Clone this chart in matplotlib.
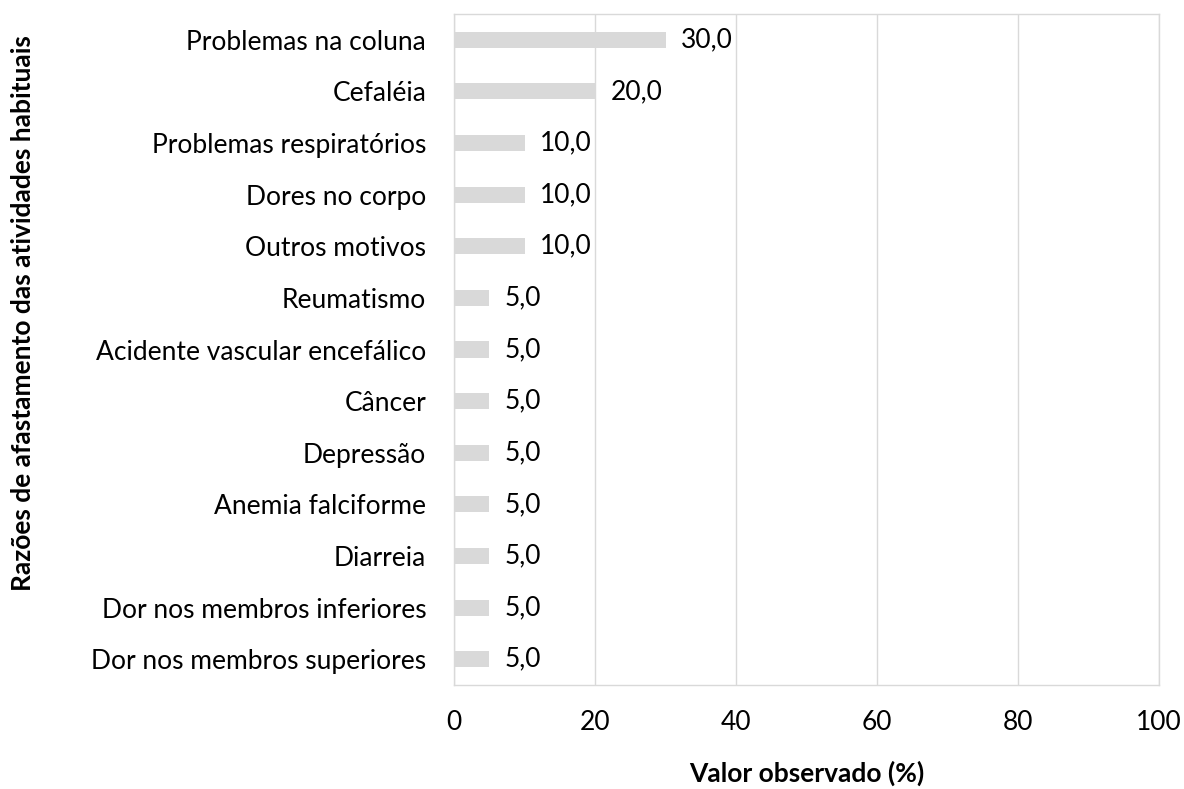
import matplotlib
matplotlib.use("Agg")
import matplotlib.pyplot as plt

categories = ["Problemas na coluna", "Cefaléia", "Problemas respiratórios",
              "Dores no corpo", "Outros motivos", "Reumatismo",
              "Acidente vascular encefálico", "Câncer", "Depressão",
              "Anemia falciforme", "Diarreia", "Dor nos membros inferiores",
              "Dor nos membros superiores"]
values = [30.0, 20.0, 10.0, 10.0, 10.0, 5.0, 5.0, 5.0, 5.0, 5.0, 5.0, 5.0, 5.0]
xticks = [0, 20, 40, 60, 80, 100]

plt.rcParams['font.family'] = ['Lato', 'DejaVu Sans']
FS = 19

fig = plt.figure(figsize=(11.84, 7.89), dpi=100)
ax = fig.add_axes([454/1184, 1-685/789, (1159-454)/1184, (685-14)/789])

y = list(range(len(categories)))
ax.barh(y, values, height=0.31, color='#D9D9D9', zorder=3)
for yi, v in zip(y, values):
    ax.annotate(f"{v:.1f}".replace('.', ','), (v, yi), xytext=(11, 0),
                textcoords='offset points', va='center', ha='left',
                fontsize=FS, color='#000000')

ax.set_ylim(len(categories)-0.5, -0.5)
ax.set_xlim(0, 100)
ax.set_xticks(xticks)
ax.set_xticklabels([str(t) for t in xticks], fontsize=FS)
ax.set_yticks(y)
ax.set_yticklabels(categories, fontsize=FS)
ax.tick_params(axis='both', length=0)
ax.tick_params(axis='x', pad=18)
ax.tick_params(axis='y', pad=20)
ax.xaxis.grid(True, color='#D9D9D9', linewidth=1, zorder=0)
for s in ax.spines.values():
    s.set_color('#D9D9D9')
    s.set_linewidth(1)

fig.text((454+1159)/2/1184, 1-773/789, "Valor observado (%)", fontsize=FS,
         fontweight='bold', ha='center', va='center')
fig.text(23/1184, 1-313/789, "Razões de afastamento das atividades habituais",
         rotation=90, fontsize=FS, fontweight='bold', ha='center', va='center')

fig.savefig("out.png", dpi=100)
